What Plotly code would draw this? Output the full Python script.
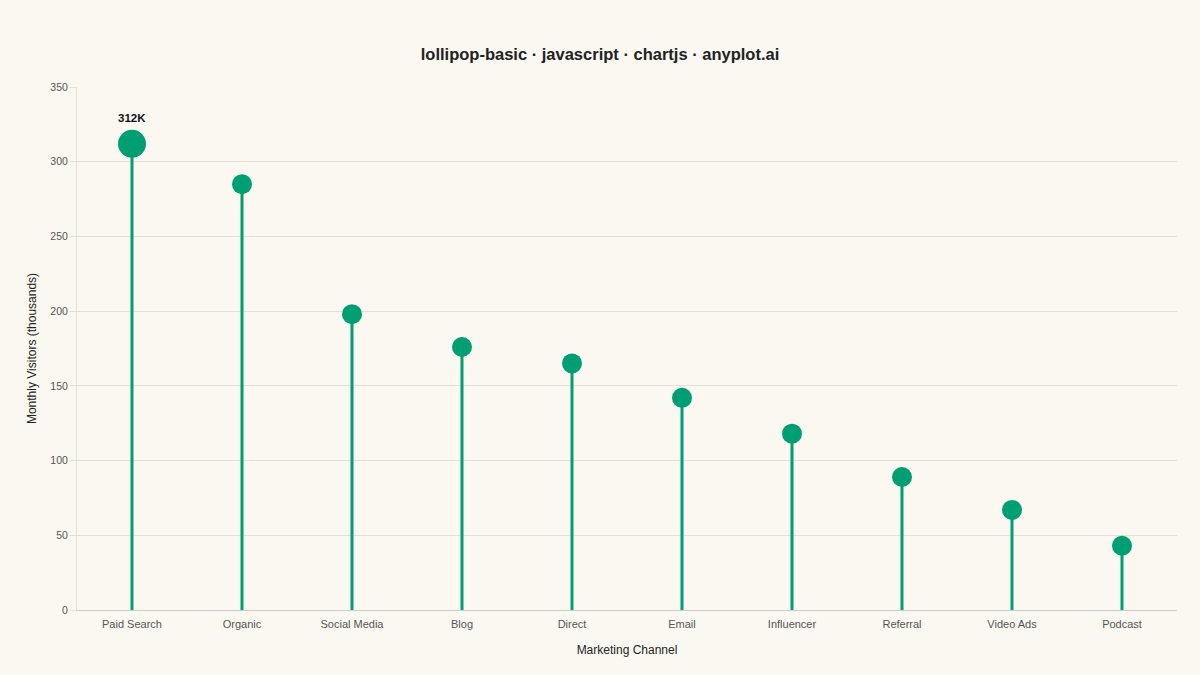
import plotly.graph_objects as go

channels = ["Paid Search", "Organic", "Social Media", "Blog", "Direct",
            "Email", "Influencer", "Referral", "Video Ads", "Podcast"]
visitors = [312, 285, 198, 176, 165, 142, 118, 89, 67, 43]

GREEN = "#009E73"
BG = "#FAF8F1"
FONT = "Liberation Sans, Arial, sans-serif"

sizes = [28 if i == 0 else 20 for i in range(len(channels))]

# stems: one vertical segment per category, from 0 up to its value
stem_x, stem_y = [], []
for c, v in zip(channels, visitors):
    stem_x += [c, c, None]
    stem_y += [0, v, None]

fig = go.Figure()
fig.add_trace(go.Scatter(
    x=stem_x, y=stem_y, mode="lines",
    line=dict(color=GREEN, width=3),
    hoverinfo="skip", showlegend=False, connectgaps=False,
))
fig.add_trace(go.Scatter(
    x=channels, y=visitors, mode="markers",
    marker=dict(color=GREEN, size=sizes, opacity=1, line=dict(width=0)),
    showlegend=False,
))
fig.add_annotation(
    x=channels[0], y=visitors[0], text="<b>%dK</b>" % visitors[0],
    showarrow=False, yshift=26, font=dict(family=FONT, size=11.5, color="#111111"),
)

fig.update_layout(
    width=1200, height=675,
    paper_bgcolor=BG, plot_bgcolor=BG,
    margin=dict(l=77, r=23, t=87, b=65),
    title=dict(text="<b>lollipop-basic · javascript · chartjs · anyplot.ai</b>",
               x=0.5, xanchor="center", y=1 - 54 / 675, yanchor="middle",
               font=dict(family=FONT, size=16.5, color="#222222")),
    font=dict(family=FONT, color="#555555"),
    xaxis=dict(
        title=dict(text="Marketing Channel", font=dict(size=12, color="#222222"), standoff=16),
        tickfont=dict(size=11, color="#555555"),
        categoryorder="array", categoryarray=channels,
        showgrid=False, showline=True, linecolor="#CCCCCC", linewidth=1,
        ticks="", ticklabelstandoff=4, range=[-0.5, 9.5],
    ),
    yaxis=dict(
        title=dict(text="Monthly Visitors (thousands)", font=dict(size=12, color="#222222"), standoff=11),
        tickfont=dict(size=10.5, color="#555555"),
        range=[0, 350], dtick=50,
        showgrid=True, gridcolor="#E3E0D9", gridwidth=1,
        showline=True, linecolor="#E3E0D9", linewidth=1,
        zeroline=False, ticks="outside", ticklen=6, tickcolor="#E3E0D9",
    ),
)

fig.write_html("out.html", config={"displayModeBar": False},
               post_script="document.body.style.margin='0';")
